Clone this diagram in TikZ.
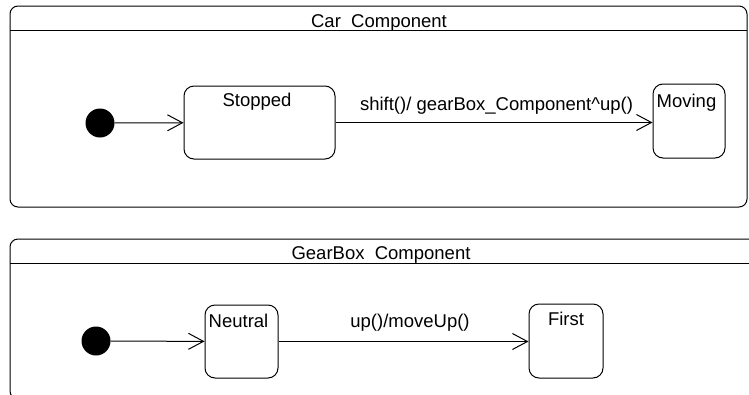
\documentclass[tikz,border=0pt]{standalone}
\usepackage{fontspec}
\setmainfont{Liberation Sans}
\usetikzlibrary{arrows.meta}

\begin{document}
\begin{tikzpicture}
  [x = 1pt, y = -1pt,
    every node/.style={font = \fontsize{18.5}{20}\selectfont},
    frame/.style={draw, line width = 1pt, rounded corners = 8pt},
    statebox/.style={draw, line width = 1pt, rounded corners = 10pt, inner sep = 0pt},
    dot/.style={circle, inner sep = 0pt, minimum size = 29pt, fill = black},
    tag/.style={anchor = base, inner sep = 0pt},
    trans/.style={line width = 1pt, -{Straight Barb[length = 15pt, width = 16pt]}}]
  \clip (0,0) rectangle (749,394);
  % car component
  \draw[frame] (10,6) rectangle (747,207);
  \draw[line width = 1pt] (10,30) -- (747,30);
  \node[tag] (cartitle) at (379,27) {Car\ \ Component};
  \node[dot] (carinit) at (100,123) {};
  \node[statebox, minimum width = 151pt, minimum height = 73pt] (stopped) at (259.5,122.5) {};
  \node[tag] (stoppedname) at (257,106) {Stopped};
  \node[statebox, minimum width = 72pt, minimum height = 74pt] (moving) at (689,121) {};
  \node[tag] (movingname) at (686.5,107) {Moving};
  \draw[trans] (carinit) -- (stopped);
  \draw[trans] (stopped.east) -- (stopped.east -| moving.west);
  \node[tag] (shiftlabel) at (496.5,110) {shift()/ gearBox\_Component\textasciicircum up()};
  % gearbox component
  \draw[frame] (10,239) rectangle (770,399);
  \draw[line width = 1pt] (10,263) -- (749,263);
  \node[tag] (geartitle) at (381,259) {GearBox\ \ Component};
  \node[dot] (gearinit) at (96,341) {};
  \node[statebox, minimum width = 73pt, minimum height = 73pt] (neutral) at (241.5,341.5) {};
  \node[tag] (neutralname) at (238.5,327) {Neutral};
  \node[statebox, minimum width = 74pt, minimum height = 74pt] (first) at (566,341) {};
  \node[tag] (firstname) at (566,325) {First};
  \draw[trans] (gearinit) -- (neutral);
  \draw[trans] (neutral.east) -- (neutral.east -| first.west);
  \node[tag] (uplabel) at (410,327) {up()/moveUp()};
\end{tikzpicture}
\end{document}
